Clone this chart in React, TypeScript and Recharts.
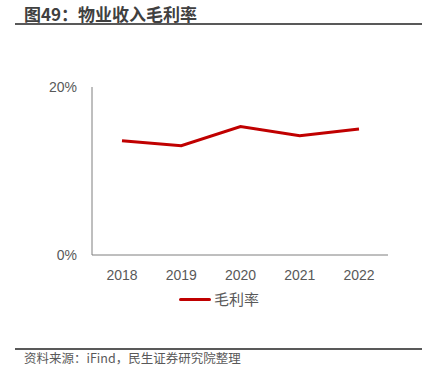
import { LineChart, Line, XAxis, YAxis } from "recharts";

const years = ["2018", "2019", "2020", "2021", "2022"];
const grossMargin = [13.6, 13.0, 15.3, 14.2, 15.0];
const yTicks = [0, 20];

const chartData = years.map((year, i) => ({ year, value: grossMargin[i] }));

const CJK = '"Noto Sans CJK SC", "Liberation Sans", sans-serif';
const LATIN = '"Liberation Sans", "Noto Sans CJK SC", sans-serif';

export default function App() {
  return (
    <div
      style={{
        position: "absolute",
        left: 0,
        top: 0,
        width: 427,
        height: 366,
        background: "#fff",
        overflow: "hidden",
      }}
    >
      {/* title */}
      <div
        style={{
          position: "absolute",
          left: 24,
          top: 3,
          fontFamily: CJK,
          fontWeight: 700,
          fontSize: 17,
          lineHeight: "22px",
          color: "#404040",
        }}
      >
        图49：物业收入毛利率
      </div>
      <div
        style={{
          position: "absolute",
          left: 15,
          top: 23,
          width: 407,
          height: 2,
          background: "#595959",
        }}
      />

      <LineChart
        width={427}
        height={366}
        data={chartData}
        margin={{ top: 87, right: 39, bottom: 81, left: 0 }}
        style={{ position: "absolute", left: 0, top: 0 }}
      >
        <XAxis
          dataKey="year"
          height={30}
          padding={{ left: 30, right: 29 }}
          axisLine={{ stroke: "#7f7f7f", strokeWidth: 1 }}
          tickLine={false}
          tickSize={6}
          tickMargin={9}
          tick={{ fill: "#595959", fontSize: 14, fontFamily: LATIN }}
        />
        <YAxis
          width={92}
          domain={[0, 20]}
          ticks={yTicks}
          tickFormatter={(v: number) => `${v}%`}
          axisLine={{ stroke: "#7f7f7f", strokeWidth: 1 }}
          tickLine={false}
          tickSize={6}
          tickMargin={9}
          tick={{ fill: "#595959", fontSize: 14, fontFamily: LATIN }}
        />
        <Line
          type="linear"
          dataKey="value"
          stroke="#c00000"
          strokeWidth={3}
          dot={false}
          isAnimationActive={false}
        />
      </LineChart>

      {/* legend */}
      <div
        style={{
          position: "absolute",
          left: 179,
          top: 288,
          display: "flex",
          alignItems: "center",
          fontFamily: CJK,
          fontSize: 15,
          lineHeight: "22px",
          color: "#595959",
        }}
      >
        <span
          style={{
            display: "inline-block",
            width: 32,
            height: 3,
            borderRadius: 2,
            background: "#c00000",
            marginRight: 3,
          }}
        />
        毛利率
      </div>

      {/* source */}
      <div
        style={{
          position: "absolute",
          left: 15,
          top: 348,
          width: 407,
          height: 2,
          background: "#595959",
        }}
      />
      <div
        style={{
          position: "absolute",
          left: 24,
          top: 350,
          fontFamily: CJK,
          fontSize: 12.5,
          lineHeight: "15px",
          color: "#595959",
        }}
      >
        资料来源：iFind，民生证券研究院整理
      </div>
    </div>
  );
}
